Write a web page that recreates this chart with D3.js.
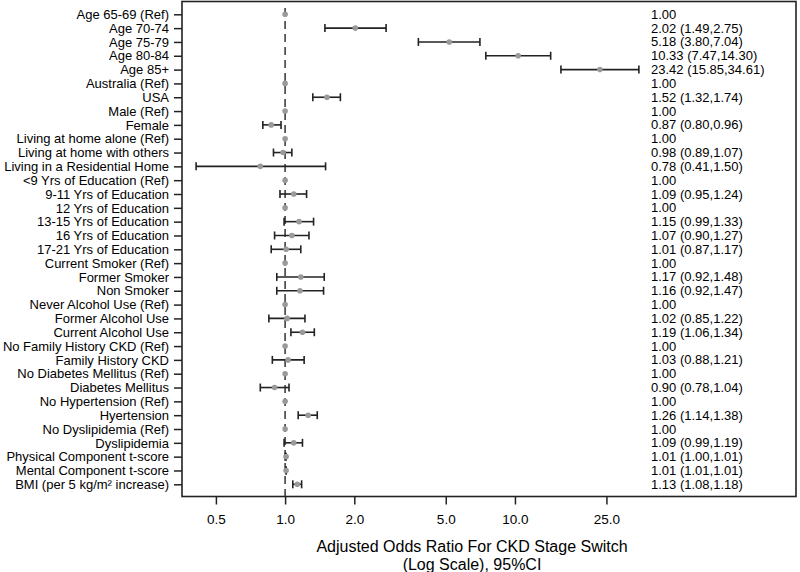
<!DOCTYPE html>
<html>
<head>
<meta charset="utf-8">
<script src="https://cdn.jsdelivr.net/npm/d3@7"></script>
<style>
  body { margin: 0; background: #fff; }
  svg { display: block; font-family: "Liberation Sans", Arial, sans-serif; }
</style>
</head>
<body>
<svg id="chart" width="800" height="572"></svg>
<script>
// row labels, top to bottom
const labels = [
  'Age 65-69 (Ref)', 'Age 70-74', 'Age 75-79', 'Age 80-84', 'Age 85+',
  'Australia (Ref)', 'USA', 'Male (Ref)', 'Female',
  'Living at home alone (Ref)', 'Living at home with others', 'Living in a Residential Home',
  '<9 Yrs of Education (Ref)', '9-11 Yrs of Education', '12 Yrs of Education',
  '13-15 Yrs of Education', '16 Yrs of Education', '17-21 Yrs of Education',
  'Current Smoker (Ref)', 'Former Smoker', 'Non Smoker',
  'Never Alcohol Use (Ref)', 'Former Alcohol Use', 'Current Alcohol Use',
  'No Family History CKD (Ref)', 'Family History CKD',
  'No Diabetes Mellitus (Ref)', 'Diabetes Mellitus',
  'No Hypertension (Ref)', 'Hyertension',
  'No Dyslipidemia (Ref)', 'Dyslipidemia',
  'Physical Component t-score', 'Mental Component t-score',
  'BMI (per 5 kg/m\u00B2 increase)'
];

// odds ratios and 95% CI (null = reference level)
const oddsRatio = [1.00, 2.02, 5.18, 10.33, 23.42, 1.00, 1.52, 1.00, 0.87, 1.00, 0.98, 0.78,
  1.00, 1.09, 1.00, 1.15, 1.07, 1.01, 1.00, 1.17, 1.16, 1.00, 1.02, 1.19, 1.00, 1.03,
  1.00, 0.90, 1.00, 1.26, 1.00, 1.09, 1.01, 1.01, 1.13];
const ciLow = [null, 1.49, 3.80, 7.47, 15.85, null, 1.32, null, 0.80, null, 0.89, 0.41,
  null, 0.95, null, 0.99, 0.90, 0.87, null, 0.92, 0.92, null, 0.85, 1.06, null, 0.88,
  null, 0.78, null, 1.14, null, 0.99, 1.00, 1.01, 1.08];
const ciHigh = [null, 2.75, 7.04, 14.30, 34.61, null, 1.74, null, 0.96, null, 1.07, 1.50,
  null, 1.24, null, 1.33, 1.27, 1.17, null, 1.48, 1.47, null, 1.22, 1.34, null, 1.21,
  null, 1.04, null, 1.38, null, 1.19, 1.01, 1.01, 1.18];

const tickValues = [0.5, 1, 2, 5, 10, 25];

const rows = labels.map((d, i) => ({
  label: d, or: oddsRatio[i], lo: ciLow[i], hi: ciHigh[i]
}));

const svg = d3.select('#chart');

// plot frame
const frame = { left: 182, right: 796, top: 1.5, bottom: 496.5 };

const x = d3.scaleLog()
  .domain([0.356, 167])
  .range([frame.left, frame.right]);

const y = d3.scalePoint()
  .domain(labels)
  .range([14.3, 484.3]);

// box
svg.append('rect')
  .attr('x', frame.left)
  .attr('y', frame.top)
  .attr('width', frame.right - frame.left)
  .attr('height', frame.bottom - frame.top)
  .attr('fill', 'none')
  .attr('stroke', '#222')
  .attr('stroke-width', 1.6);

// reference line at OR = 1
svg.append('line')
  .attr('x1', x(1)).attr('x2', x(1))
  .attr('y1', 8).attr('y2', frame.bottom)
  .attr('stroke', '#333')
  .attr('stroke-width', 1.5)
  .attr('stroke-dasharray', '8,5');

// y axis (labels on the left)
const yAxis = svg.append('g')
  .attr('transform', `translate(${frame.left},0)`)
  .call(d3.axisLeft(y).tickSize(8).tickPadding(5));
yAxis.select('.domain').remove();
yAxis.selectAll('line').attr('stroke', '#222').attr('stroke-width', 1.5);
yAxis.selectAll('text')
  .attr('font-size', '13px')
  .attr('fill', '#000')
  .attr('font-family', '"Liberation Sans", Arial, sans-serif');

// x axis
const xAxis = svg.append('g')
  .attr('transform', `translate(0,${frame.bottom})`)
  .call(d3.axisBottom(x).tickValues(tickValues).tickFormat(d3.format('.1f')).tickSize(8).tickPadding(10));
xAxis.select('.domain').remove();
xAxis.selectAll('line').attr('stroke', '#222').attr('stroke-width', 1.5);
xAxis.selectAll('text')
  .attr('font-size', '13.5px')
  .attr('fill', '#000')
  .attr('font-family', '"Liberation Sans", Arial, sans-serif');

// confidence intervals
const ci = svg.append('g').attr('id', 'ci')
  .selectAll('g')
  .data(rows.filter(d => d.lo !== null))
  .join('g')
  .attr('stroke', '#222')
  .attr('stroke-width', 1.6);

ci.append('line')
  .attr('x1', d => x(d.lo)).attr('x2', d => x(d.hi))
  .attr('y1', d => y(d.label)).attr('y2', d => y(d.label));
ci.append('line')
  .attr('x1', d => x(d.lo)).attr('x2', d => x(d.lo))
  .attr('y1', d => y(d.label) - 4).attr('y2', d => y(d.label) + 4);
ci.append('line')
  .attr('x1', d => x(d.hi)).attr('x2', d => x(d.hi))
  .attr('y1', d => y(d.label) - 4).attr('y2', d => y(d.label) + 4);

// point estimates
svg.append('g').attr('id', 'points')
  .selectAll('circle')
  .data(rows)
  .join('circle')
  .attr('cx', d => x(d.or))
  .attr('cy', d => y(d.label))
  .attr('r', 2.8)
  .attr('fill', '#9a9a9a');

// estimate text on the right
const f = d3.format('.2f');
svg.append('g').attr('id', 'estimates')
  .selectAll('text')
  .data(rows)
  .join('text')
  .attr('x', 651)
  .attr('y', d => y(d.label))
  .attr('dy', '0.35em')
  .attr('font-size', '13px')
  .attr('fill', '#000')
  .text(d => d.lo === null ? f(d.or) : `${f(d.or)} (${f(d.lo)},${f(d.hi)})`);

// axis title
const title = svg.append('text')
  .attr('x', 472)
  .attr('text-anchor', 'middle')
  .attr('font-size', '16px')
  .attr('fill', '#000');
title.append('tspan').attr('x', 472).attr('y', 552).text('Adjusted Odds Ratio For CKD Stage Switch');
title.append('tspan').attr('x', 472).attr('y', 570).text('(Log Scale), 95%CI');
</script>
</body>
</html>
